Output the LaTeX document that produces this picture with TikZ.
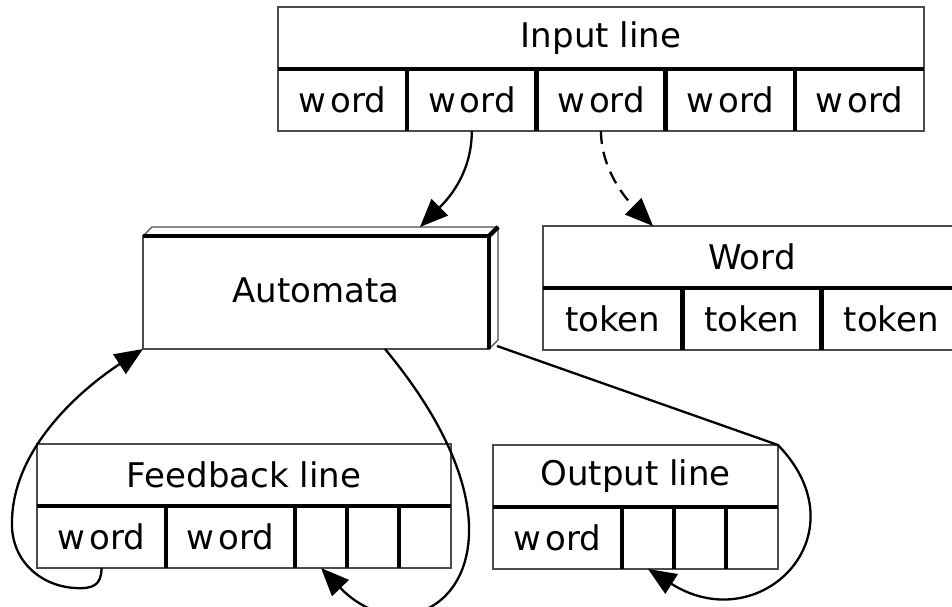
\documentclass[tikz,border=0pt]{standalone}
\usepackage{fontspec}
\setmainfont{DejaVu Sans}
\usetikzlibrary{arrows.meta,calc}
\newcommand{\wordtxt}{w\kern4pt ord}
\begin{document}
\begin{tikzpicture}[x=1pt,y=-1pt,
  cell/.style={draw=black!70, line width=1.2pt, minimum height=62pt, inner sep=0pt, outer sep=0pt,
    font=\fontsize{34}{40}\selectfont},
  wcell/.style={cell, minimum width=129.2pt},
  tcell/.style={cell, minimum width=139.3pt},
  ecell/.style={cell, minimum width=52pt},
  sepline/.style={line width=4.5pt, line cap=butt, black},
  conn/.style={line width=2.3pt, -{Triangle[length=28pt,width=23pt]}},
  dashconn/.style={conn, dash pattern=on 13pt off 8pt},
]
\useasboundingbox (0,0) rectangle (952,607);

% ---------- Input line ----------
\node[cell, minimum width=646pt, anchor=north west] (ih) at (278,7) {Input line};
\node[wcell, anchor=north west] (i1) at (ih.south west) {\wordtxt};
\node[wcell, anchor=west] (i2) at (i1.east) {\wordtxt};
\node[wcell, anchor=west] (i3) at (i2.east) {\wordtxt};
\node[wcell, anchor=west] (i4) at (i3.east) {\wordtxt};
\node[wcell, anchor=west] (i5) at (i4.east) {\wordtxt};
\draw[sepline] (ih.south west) -- (ih.south east);
\foreach \c in {i1,i2,i3,i4} \draw[sepline] (\c.north east) -- (\c.south east);

% ---------- Word ----------
\node[cell, minimum width=417.9pt, anchor=north west] (wh) at (543,226) {Word};
\node[tcell, anchor=north west] (t1) at (wh.south west) {token};
\node[tcell, anchor=west] (t2) at (t1.east) {token};
\node[tcell, anchor=west] (t3) at (t2.east) {token};
\draw[sepline] (wh.south west) -- (wh.south east);
\foreach \c in {t1,t2} \draw[sepline] (\c.north east) -- (\c.south east);

% ---------- Automata (3D box) ----------
\node[draw=black!70, line width=1.2pt, minimum width=346pt, minimum height=113pt, inner sep=0pt,
  outer sep=0pt, text depth=4pt, font=\fontsize{34}{40}\selectfont] (auto) at (316,292.5) {Automata};
\draw[draw=black!70, line width=1.2pt, line join=miter]
  (auto.north west) -- ++(9,-9) -- ++(346,0) -- ++(0,113) -- (auto.south east);
\draw[sepline, line join=miter] (auto.north west) -- (auto.north east) -- (auto.south east);
\draw[sepline] (auto.north east) -- ++(9,-9);

% ---------- Feedback line ----------
\node[cell, minimum width=414pt, anchor=north west] (fh) at (37,444) {Feedback line};
\node[wcell, minimum width=129pt, anchor=north west] (f1) at (fh.south west) {\wordtxt};
\node[wcell, minimum width=129pt, anchor=west] (f2) at (f1.east) {\wordtxt};
\node[ecell, anchor=west] (f3) at (f2.east) {};
\node[ecell, anchor=west] (f4) at (f3.east) {};
\node[ecell, anchor=west] (f5) at (f4.east) {};
\draw[sepline] (fh.south west) -- (fh.south east);
\foreach \c in {f1,f2,f3,f4} \draw[sepline] (\c.north east) -- (\c.south east);

% ---------- Output line ----------
\node[cell, minimum width=285pt, anchor=north west] (oh) at (493,445) {Output line};
\node[wcell, minimum width=129pt, anchor=north west] (o1) at (oh.south west) {\wordtxt};
\node[ecell, anchor=west] (o2) at (o1.east) {};
\node[ecell, anchor=west] (o3) at (o2.east) {};
\node[ecell, anchor=west] (o4) at (o3.east) {};
\draw[sepline] (oh.south west) -- (oh.south east);
\foreach \c in {o1,o2,o3} \draw[sepline] (\c.north east) -- (\c.south east);

% ---------- connectors ----------
\coordinate (autotop) at (420,227);
\coordinate (wordtop) at (653,226);
\coordinate (autobot) at (385,349);
\coordinate (autoback) at (497,346);

\draw[conn] (i2.south) .. controls +(0,45) and +(25,-25) .. (autotop);
\draw[dashconn] (i3.south) .. controls +(0,40) and +(-25,-25) .. (wordtop);

\draw[conn] (f1.south) .. controls +(0,18) and (92,589) .. (75,588)
  .. controls (40,586) and (10,560) .. (12,520)
  .. controls (14,440) and (95,380) .. (auto.south west);

\draw[conn] (autobot) .. controls (560,560) and (420,670) .. (f3.south);

\draw[conn] (autoback) -- (oh.north east) .. controls (865,535) and (760,640) .. (o2.south);
\end{tikzpicture}
\end{document}
